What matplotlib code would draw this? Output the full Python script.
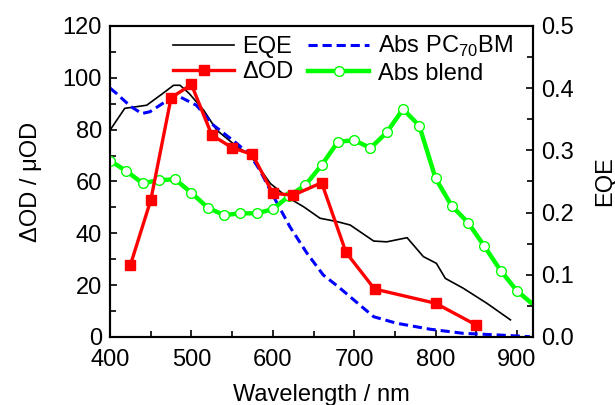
import matplotlib
matplotlib.use('Agg')
import matplotlib.pyplot as plt
from matplotlib.ticker import MultipleLocator

plt.rcParams['font.family'] = ['Liberation Sans', 'DejaVu Sans']
plt.rcParams['mathtext.fontset'] = 'custom'
plt.rcParams['mathtext.rm'] = 'Liberation Sans'

# ΔOD (red squares)
dod_nm = [425, 450, 475, 500, 525, 550, 575, 600, 625, 660, 690, 725, 800, 850]
dod_val = [27.8, 52.8, 92.3, 97.4, 77.9, 73.0, 70.4, 55.4, 54.7, 59.5, 32.6, 18.5, 13.0, 4.6]

# EQE (black line), read in left-axis units (EQE = value / 240)
eqe_nm = [400, 418, 445, 465, 478, 486, 497, 515, 531, 556, 572, 597, 617, 638, 658,
          679, 695, 724, 740, 765, 785, 801, 812, 834, 863, 892]
eqe_left = [79.8, 88.2, 89.4, 94.0, 97.1, 97.1, 94.0, 87.5, 79.8, 73.4, 70.2, 59.2, 54.1,
            50.2, 45.8, 44.5, 43.2, 37.0, 36.7, 38.3, 31.0, 28.4, 22.6, 18.8, 13.0, 6.6]

# Abs PC70BM (blue dashed)
pcbm_nm = [400, 408, 425, 439, 449, 474, 486, 506, 527, 556, 572, 584, 601, 621, 642,
           662, 680, 695, 724, 752, 793, 834, 875, 916]
pcbm_val = [96.0, 93.9, 89.0, 86.2, 86.9, 92.0, 92.6, 89.4, 81.7, 74.6, 70.2, 64.4, 54.1,
            42.5, 32.3, 23.9, 19.5, 15.5, 7.8, 5.3, 3.0, 1.4, 0.8, 0.1]

# Abs blend (green, open circles)
blend_nm = [400, 420, 440, 460, 480, 500, 520, 540, 560, 580, 600, 620, 640, 660, 680,
            700, 720, 740, 760, 780, 800, 820, 840, 860, 880, 900, 920]
blend_val = [68.0, 64.0, 59.3, 60.5, 60.8, 55.6, 49.9, 47.0, 47.7, 47.7, 49.3, 54.4, 58.6,
             66.3, 75.3, 75.9, 72.9, 78.9, 87.9, 81.5, 61.2, 50.5, 44.1, 35.0, 25.6, 17.8, 12.5]

fs = 17

fig = plt.figure(figsize=(6.15, 4.05), dpi=100)
ax = fig.add_axes([0.179, 0.168, 0.688, 0.768])
ax2 = ax.twinx()

ax.plot(eqe_nm, eqe_left, color='black', lw=1.2, label='EQE')
ax.plot(dod_nm, dod_val, color='#ff0000', lw=2.4, marker='s', ms=6.5,
        label='ΔOD', zorder=4)
ax.plot(pcbm_nm, pcbm_val, color='#0000ff', lw=2.2, ls=(0, (3, 1.6)),
        label=r'Abs PC$_{70}$BM')
ax.plot(blend_nm, blend_val, color='#00ff00', lw=3.2, marker='o', ms=7,
        mfc='white', mec='#00ff00', mew=1, markevery=list(range(26)),
        label='Abs blend', zorder=3)

ax.set_xlim(400, 920)
ax.set_ylim(0, 120)
ax2.set_ylim(0, 0.5)

ax.xaxis.set_major_locator(MultipleLocator(100))
ax.xaxis.set_minor_locator(MultipleLocator(50))
ax.yaxis.set_major_locator(MultipleLocator(20))
ax.yaxis.set_minor_locator(MultipleLocator(10))
ax2.yaxis.set_major_locator(MultipleLocator(0.1))
ax2.yaxis.set_minor_locator(MultipleLocator(0.05))
ax2.yaxis.set_major_formatter(plt.FormatStrFormatter('%.1f'))

for a in (ax, ax2):
    for s in a.spines.values():
        s.set_linewidth(1.5)
    a.tick_params(which='both', direction='in', width=1.2, labelsize=fs)
    a.tick_params(which='major', length=5)
    a.tick_params(which='minor', length=4)
ax.tick_params(axis='y', which='both', right=False)
ax.tick_params(axis='x', which='both', top=False, pad=9)
ax.tick_params(axis='y', pad=6)
ax2.tick_params(axis='y', pad=6)

ax.set_xlabel('Wavelength / nm', fontsize=fs, labelpad=9)
ax.set_ylabel('ΔOD / μOD', fontsize=fs, labelpad=15)
ax2.set_ylabel('EQE', fontsize=fs, labelpad=14)

ax.legend(loc='upper left', bbox_to_anchor=(0.126, 1.005), ncol=2, frameon=False,
          fontsize=fs, handlelength=2.6, handletextpad=0.35, columnspacing=0.6,
          labelspacing=0.15, borderaxespad=0)

fig.savefig('out.png', dpi=100)
